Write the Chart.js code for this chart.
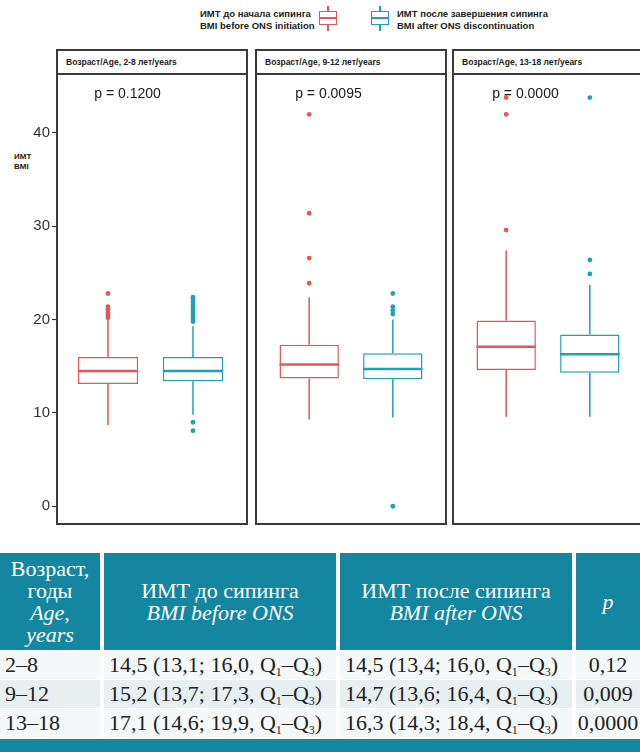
<!DOCTYPE html>
<html>
<head>
<meta charset="utf-8">
<script src="https://cdn.jsdelivr.net/npm/chart.js@4.4.1/dist/chart.umd.min.js"></script>
<style>
  body { margin: 0; background: #fff; }
  #wrap { position: relative; width: 640px; height: 752px; overflow: hidden; background: #fff; font-family: "Liberation Sans", Arial, sans-serif; }
  canvas { position: absolute; }
  .panel { position: absolute; top: 49px; width: 192px; height: 476px; box-sizing: border-box; border: 2px solid #3a3a3a; pointer-events: none; }
  .strip { position: absolute; left: 0; right: 0; top: 0; height: 24px; box-sizing: border-box; border-bottom: 2px solid #3a3a3a; background: #fff;
           font-weight: bold; font-size: 8.5px; line-height: 22px; padding-left: 8px; color: #222; white-space: nowrap; }
  .legText { position: absolute; top: 8px; font-weight: bold; font-size: 9.5px; line-height: 12px; color: #222; white-space: nowrap; }
  .glyph { position: absolute; top: 6px; width: 18px; height: 25px; }
  .glyph .box { position: absolute; left: 0; top: 5px; width: 18px; height: 14px; box-sizing: border-box; border: 1.5px solid; }
  .glyph .mid { position: absolute; left: 0; top: 11px; width: 18px; height: 2px; }
  .glyph .wt { position: absolute; left: 8px; top: 0; width: 1.5px; height: 5px; }
  .glyph .wb { position: absolute; left: 8px; top: 19px; width: 1.5px; height: 6px; }
  #ylab { position: absolute; left: 14px; top: 152px; font-weight: bold; font-size: 8px; line-height: 10px; color: #222; }
  table { position: absolute; left: -4px; top: 552px; width: 648px; border-collapse: separate; border-spacing: 4px 1px;
          font-family: "Liberation Serif", "Times New Roman", serif; font-size: 22px; color: #222; table-layout: fixed; }
  th { background: #15869f; color: #fff; font-weight: normal; line-height: 22px; height: 97px; padding: 0; text-align: center; vertical-align: middle; }
  td { height: 28px; line-height: 28px; padding: 0 0 0 5px; white-space: nowrap; }
  tbody tr:nth-child(odd) td { background: #f5f8f9; }
  tbody tr:nth-child(even) td { background: #e8eff1; }
  td.pcol { text-align: center; padding: 0; }
  sub { font-size: 0.55em; vertical-align: -0.3em; line-height: 0; }
  #bar { position: absolute; left: 0; top: 739px; width: 640px; height: 13px; background: #15869f; }
</style>
</head>
<body>
<div id="wrap">
  <div class="legText" id="leg1" style="left:200px"></div>
  <div class="glyph" id="g1" style="left:319px"><div class="wt"></div><div class="box"></div><div class="mid"></div><div class="wb"></div></div>
  <div class="glyph" id="g2" style="left:371px"><div class="wt"></div><div class="box"></div><div class="mid"></div><div class="wb"></div></div>
  <div class="legText" id="leg2" style="left:397px"></div>
  <div id="ylab">ИМТ<br>BMI</div>

  <canvas id="c0" width="248" height="452" style="left:0px; top:73px"></canvas>
  <canvas id="c1" width="192" height="452" style="left:255px; top:73px"></canvas>
  <canvas id="c2" width="192" height="452" style="left:452px; top:73px"></canvas>

  <div class="panel" style="left:56px"><div class="strip" id="s0"></div></div>
  <div class="panel" style="left:255px"><div class="strip" id="s1"></div></div>
  <div class="panel" style="left:452px; width:200px"><div class="strip" id="s2"></div></div>

  <table id="tbl">
    <colgroup><col style="width:100px"><col style="width:232px"><col style="width:232px"><col style="width:64px"></colgroup>
    <thead><tr>
      <th>Возраст,<br>годы<br><i>Age</i>,<br><i>years</i></th>
      <th>ИМТ до сипинга<br><i>BMI before ONS</i></th>
      <th>ИМТ после сипинга<br><i>BMI after ONS</i></th>
      <th><i>p</i></th>
    </tr></thead>
    <tbody id="tb"></tbody>
  </table>
  <div id="bar"></div>
</div>

<script>
// группы и панели
const groupNames = ['ИМТ до начала сипинга', 'ИМТ после завершения сипинга'];
const groupNamesEn = ['BMI before ONS initiation', 'BMI after ONS discontinuation'];
const colors = ['#e2575a', '#1ea2b1'];
const stripLabels = ['Возраст/Age, 2-8 лет/years', 'Возраст/Age, 9-12 лет/years', 'Возраст/Age, 13-18 лет/years'];
const pLabels = ['p = 0.1200', 'p = 0.0095', 'p = 0.0000'];
const yTicks = [0, 10, 20, 30, 40];
const xPositions = [1, 2];

// ИМТ до начала сипинга (по панелям)
const q1Before = [13.1, 13.7, 14.6];
const medBefore = [14.5, 15.2, 17.1];
const q3Before = [16.0, 17.3, 19.9];
const loBefore = [8.7, 9.3, 9.6];
const hiBefore = [20.0, 22.4, 27.4];
const outBefore = [
  [20.2, 20.5, 20.8, 21.1, 21.4, 22.8],
  [23.9, 26.6, 31.4, 42.0],
  [29.6, 42.0, 43.8]
];

// ИМТ после завершения сипинга
const q1After = [13.4, 13.6, 14.3];
const medAfter = [14.5, 14.7, 16.3];
const q3After = [16.0, 16.4, 18.4];
const loAfter = [9.8, 9.5, 9.6];
const hiAfter = [19.3, 20.0, 23.7];
const outAfter = [
  [8.1, 9.0, 19.8, 20.1, 20.4, 20.7, 21.0, 21.3, 21.6, 21.9, 22.2, 22.4],
  [0.0, 20.6, 21.0, 21.4, 22.8],
  [24.9, 26.4, 43.8]
];

// таблица
const tableAges = ['2–8', '9–12', '13–18'];
const tableP = ['0,12', '0,009', '0,0000'];

// легенда и подписи
document.getElementById('leg1').innerHTML = groupNames[0] + '<br>' + groupNamesEn[0];
document.getElementById('leg2').innerHTML = groupNames[1] + '<br>' + groupNamesEn[1];
['g1', 'g2'].forEach((id, i) => {
  const g = document.getElementById(id);
  g.querySelector('.box').style.borderColor = colors[i];
  g.querySelector('.mid').style.background = colors[i];
  g.querySelector('.wt').style.background = colors[i];
  g.querySelector('.wb').style.background = colors[i];
});
stripLabels.forEach((t, i) => { document.getElementById('s' + i).textContent = t; });

const fmt = v => v.toFixed(1).replace('.', ',');
const cell = (m, a, b) => `${fmt(m)} (${fmt(a)}; ${fmt(b)}, Q<sub>1</sub>–Q<sub>3</sub>)`;
document.getElementById('tb').innerHTML = tableAges.map((age, i) =>
  `<tr><td>${age}</td><td>${cell(medBefore[i], q1Before[i], q3Before[i])}</td>` +
  `<td>${cell(medAfter[i], q1After[i], q3After[i])}</td><td class="pcol">${tableP[i]}</td></tr>`
).join('');

// усы, медианы и p-значение поверх столбиков
const boxExtras = {
  id: 'boxExtras',
  beforeDatasetsDraw(chart) {
    const { ctx, scales: { x, y } } = chart;
    const o = chart.options.plugins.boxExtras;
    ctx.save();
    ctx.lineWidth = 1.5;
    o.boxes.forEach(b => {
      const px = x.getPixelForValue(b.pos);
      ctx.strokeStyle = b.color;
      ctx.beginPath();
      ctx.moveTo(px, y.getPixelForValue(b.lo));
      ctx.lineTo(px, y.getPixelForValue(b.q1));
      ctx.moveTo(px, y.getPixelForValue(b.q3));
      ctx.lineTo(px, y.getPixelForValue(b.hi));
      ctx.stroke();
    });
    ctx.restore();
  },
  afterDatasetsDraw(chart) {
    const { ctx, scales: { x, y } } = chart;
    const o = chart.options.plugins.boxExtras;
    const meta = chart.getDatasetMeta(0);
    ctx.save();
    ctx.lineWidth = 2.5;
    o.boxes.forEach((b, i) => {
      const el = meta.data[i];
      const py = y.getPixelForValue(b.med);
      ctx.strokeStyle = b.color;
      ctx.beginPath();
      ctx.moveTo(el.x - el.width / 2, py);
      ctx.lineTo(el.x + el.width / 2, py);
      ctx.stroke();
    });
    ctx.fillStyle = '#1a1a1a';
    ctx.font = '14px "Liberation Sans", Arial, sans-serif';
    ctx.textAlign = 'center';
    ctx.textBaseline = 'middle';
    ctx.fillText(o.pText, x.getPixelForValue(1.23), y.getPixelForValue(44.2));
    ctx.restore();
  }
};

function makePanel(i) {
  const showY = i === 0;
  const boxes = [
    { pos: xPositions[0], q1: q1Before[i], med: medBefore[i], q3: q3Before[i], lo: loBefore[i], hi: hiBefore[i], color: colors[0] },
    { pos: xPositions[1], q1: q1After[i], med: medAfter[i], q3: q3After[i], lo: loAfter[i], hi: hiAfter[i], color: colors[1] }
  ];
  return new Chart(document.getElementById('c' + i), {
    type: 'bar',
    data: {
      datasets: [
        {
          type: 'bar',
          data: boxes.map(b => ({ x: b.pos, y: [b.q1, b.q3] })),
          backgroundColor: '#ffffff',
          borderColor: colors,
          borderWidth: 1.5,
          borderSkipped: false,
          barPercentage: 0.71,
          categoryPercentage: 1
        },
        {
          type: 'line',
          data: outBefore[i].map(v => ({ x: xPositions[0], y: v })),
          showLine: false,
          pointRadius: 2.4,
          pointBorderWidth: 0,
          pointBackgroundColor: colors[0]
        },
        {
          type: 'line',
          data: outAfter[i].map(v => ({ x: xPositions[1], y: v })),
          showLine: false,
          pointRadius: 2.4,
          pointBorderWidth: 0,
          pointBackgroundColor: colors[1]
        }
      ]
    },
    options: {
      responsive: false,
      animation: false,
      events: [],
      layout: { padding: 0 },
      plugins: {
        legend: { display: false },
        tooltip: { enabled: false },
        boxExtras: { boxes: boxes, pText: pLabels[i] }
      },
      scales: {
        x: {
          type: 'linear', min: 0.4, max: 2.6, offset: false, display: false,
          afterBuildTicks: s => { s.ticks = xPositions.map(v => ({ value: v })); }
        },
        y: {
          type: 'linear',
          min: -1.58,
          max: 46,
          display: showY,
          afterBuildTicks: s => { s.ticks = yTicks.map(v => ({ value: v })); },
          afterFit: s => { if (showY) { s.width = 57; } s.paddingTop = 0; s.paddingBottom = 0; },
          border: { display: false },
          grid: { drawOnChartArea: false, drawTicks: true, tickLength: 5, tickColor: '#333', tickWidth: 1.2 },
          ticks: { padding: 2, color: '#333', font: { size: 15, family: '"Liberation Sans", Arial, sans-serif' } }
        }
      }
    },
    plugins: [boxExtras]
  });
}

[0, 1, 2].forEach(makePanel);
</script>
</body>
</html>
